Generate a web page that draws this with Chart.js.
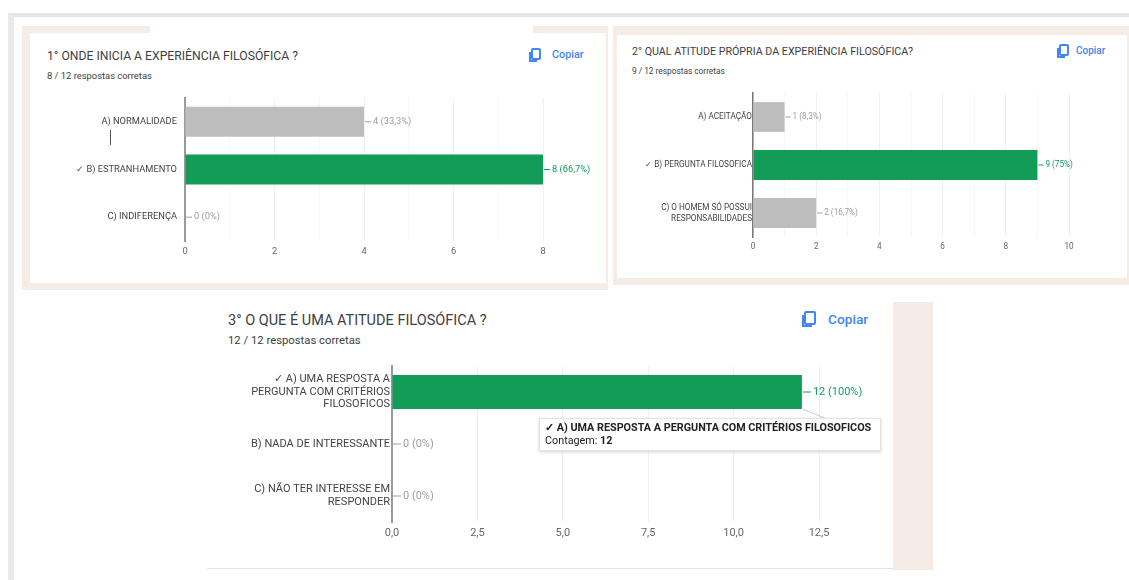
<!DOCTYPE html>
<html lang="pt">
<head>
<meta charset="utf-8">
<title>Respostas</title>
<script src="https://cdn.jsdelivr.net/npm/chart.js@4"></script>
<style>
html,body{margin:0;padding:0;background:#fff;}
body{width:1129px;height:580px;overflow:hidden;position:relative;font-family:Roboto,sans-serif;filter:blur(.55px);}
.box{position:absolute;}
.txt{position:absolute;white-space:nowrap;color:#3c4043;}
canvas{position:absolute;}
.copiar{position:absolute;white-space:nowrap;color:#4285f4;font-weight:500;}
.icon{position:absolute;border:2px solid #4285f4;border-radius:2px;background:#fff;box-sizing:border-box;}
.icon:before{content:"";position:absolute;left:-4px;top:2px;bottom:-4px;right:2px;border-left:2px solid #4285f4;border-bottom:2px solid #4285f4;}
#tip{position:absolute;left:539px;top:418px;width:342px;height:33px;background:#fff;border:1px solid #e3e3e3;box-shadow:0 1px 3px rgba(0,0,0,.18);box-sizing:border-box;padding:2px 5px;font-size:10.8px;line-height:13px;color:#222;white-space:nowrap;}
#tail{position:absolute;left:802px;top:413px;width:23px;height:1px;background:#cfcfcf;transform:rotate(22deg);}
</style>
</head>
<body>
<div class="box" style="left:8px;top:13px;width:1121px;height:4px;background:#e6e6e6"></div>
<div class="box" style="left:8px;top:13px;width:6px;height:567px;background:#e8e9e9"></div>

<div class="box" style="left:22px;top:26px;width:128px;height:7px;background:#f6ece6"></div>
<div class="box" style="left:533px;top:26px;width:75px;height:7px;background:#f6ece6"></div>
<div class="box" style="left:22px;top:32px;width:8px;height:258px;background:#f6ece6"></div>
<div class="box" style="left:22px;top:283px;width:586px;height:7px;background:#f6ece6"></div>
<div class="box" style="left:606px;top:32px;width:2px;height:258px;background:#f6ece6"></div>

<div class="box" style="left:613px;top:26px;width:516px;height:259px;background:#f6ece6"></div>
<div class="box" style="left:617px;top:35px;width:510px;height:243px;background:#fff"></div>

<div class="box" style="left:893px;top:302px;width:40px;height:268px;background:#f6ece6"></div>
<div class="box" style="left:207px;top:568px;width:686px;height:1px;background:#e4e4e4"></div>

<div class="txt" id="t1" style="left:47px;top:49px;font-size:12.2px"></div>
<div class="txt" id="s1" style="left:47px;top:70px;font-size:9.4px"></div>
<div class="icon" style="left:531px;top:48px;width:10px;height:12px"></div>
<div class="copiar" style="left:552px;top:48px;font-size:10.8px">Copiar</div>

<div class="txt" id="t2" style="left:632px;top:45px;font-size:10.7px"></div>
<div class="txt" id="s2" style="left:632px;top:66px;font-size:8.3px"></div>
<div class="icon" style="left:1059px;top:44px;width:10px;height:12px"></div>
<div class="copiar" style="left:1076px;top:45px;font-size:10px">Copiar</div>

<div class="txt" id="t3" style="left:228px;top:312px;font-size:14.5px"></div>
<div class="txt" id="s3" style="left:228px;top:334px;font-size:11.3px"></div>
<div class="icon" style="left:804px;top:311px;width:12px;height:14px"></div>
<div class="copiar" style="left:828px;top:311px;font-size:13.7px">Copiar</div>

<div class="box" style="left:110px;top:130px;width:1px;height:15px;background:#555"></div>

<canvas id="c1" width="576" height="190" style="left:30px;top:90px"></canvas>
<canvas id="c2" width="510" height="190" style="left:617px;top:80px"></canvas>
<canvas id="c3" width="686" height="200" style="left:207px;top:355px"></canvas>

<div id="tail"></div>
<div id="tip"><b id="tipTitle"></b><br><span id="tipCount"></span></div>

<script>
const title1='1° ONDE INICIA A EXPERIÊNCIA FILOSÓFICA ?';
const score1='8 / 12 respostas corretas';
const categories1=['A) NORMALIDADE','✓ B) ESTRANHAMENTO','C) INDIFERENÇA'];
const values1=[4,8,0];
const valueLabels1=['4 (33,3%)','8 (66,7%)','0 (0%)'];
const ticks1=['0','','2','','4','','6','','8'];
const correct1=1;

const title2='2° QUAL ATITUDE PRÓPRIA DA EXPERIÊNCIA FILOSÓFICA?';
const score2='9 / 12 respostas corretas';
const categories2=['A) ACEITAÇÃO','✓ B) PERGUNTA FILOSOFICA',['C) O HOMEM SÓ POSSUI','RESPONSABILIDADES']];
const values2=[1,9,2];
const valueLabels2=['1 (8,3%)','9 (75%)','2 (16,7%)'];
const ticks2=['0','','2','','4','','6','','8','','10'];
const correct2=1;

const title3='3° O QUE É UMA ATITUDE FILOSÓFICA ?';
const score3='12 / 12 respostas corretas';
const categories3=[['✓ A) UMA RESPOSTA A','PERGUNTA COM CRITÉRIOS','FILOSOFICOS'],'B) NADA DE INTERESSANTE',['C) NÃO TER INTERESSE EM','RESPONDER']];
const values3=[12,0,0];
const valueLabels3=['12 (100%)','0 (0%)','0 (0%)'];
const ticks3=['0,0','2,5','5,0','7,5','10,0','12,5'];
const correct3=0;
const tipTitle='✓ A) UMA RESPOSTA A PERGUNTA COM CRITÉRIOS FILOSOFICOS';

const GREEN='#129c58', GREY='#bdbdbd';

document.getElementById('t1').textContent=title1;
document.getElementById('s1').textContent=score1;
document.getElementById('t2').textContent=title2;
document.getElementById('s2').textContent=score2;
document.getElementById('t3').textContent=title3;
document.getElementById('s3').textContent=score3;
document.getElementById('tipTitle').textContent=tipTitle;
document.getElementById('tipCount').innerHTML='Contagem: <b>'+values3[correct3]+'</b>';

// value labels with the little leader dash after each bar
const barLabels={
  id:'barLabels',
  afterDatasetsDraw(chart,args,opts){
    const c=chart.ctx, xs=chart.scales.x, ys=chart.scales.y;
    c.save();
    c.font=opts.size+'px Roboto';
    c.textBaseline='middle';
    chart.data.datasets[0].data.forEach((v,i)=>{
      const x=xs.getPixelForValue(v), y=ys.getPixelForValue(i);
      const col=i===opts.correct?GREEN:'#9e9e9e';
      c.strokeStyle=col; c.lineWidth=1;
      c.beginPath(); c.moveTo(x+1,y); c.lineTo(x+opts.gap-2,y); c.stroke();
      c.fillStyle=col;
      c.fillText(opts.labels[i],x+opts.gap,y);
    });
    c.restore();
  }
};

function drawChart(id,cats,vals,labels,ticks,correct,o){
  const canvas=document.getElementById(id);
  return new Chart(canvas,{
    type:'bar',
    plugins:[barLabels],
    data:{labels:cats,datasets:[{
      data:vals,
      backgroundColor:vals.map((v,i)=>i===correct?GREEN:GREY),
      barPercentage:o.bar,categoryPercentage:1
    }]},
    options:{
      indexAxis:'y',responsive:false,animation:false,
      layout:{padding:{top:o.top,right:canvas.width-o.right,left:0,bottom:0}},
      plugins:{legend:{display:false},tooltip:{enabled:false},
        barLabels:{labels,correct,gap:o.gap,size:o.size}},
      scales:{
        x:{min:0,max:o.max,
          afterFit(s){s.height=o.bottom;},
          ticks:{stepSize:o.step,autoSkip:false,maxRotation:0,padding:5,color:'#666',font:{family:'Roboto',size:o.size},
            callback:(v,i)=>ticks[i]},
          grid:{drawTicks:false,color:c=>ticks[c.index]?'#f0f0f0':'#f7f7f7'},
          border:{display:false}},
        y:{
          // tick padding and label height would otherwise push the plot down
          afterFit(s){s.width=o.left;s.paddingTop=0;s.paddingBottom=0;},
          ticks:{autoSkip:false,padding:o.pad,color:'#444',font:{family:'Roboto',size:o.size,lineHeight:o.lh}},
          grid:{display:false,drawTicks:false},
          border:{color:o.axis,width:o.axisW}}
      }
    }
  });
}

drawChart('c1',categories1,values1,valueLabels1,ticks1,correct1,
  {left:155,right:513,top:8,bottom:39,max:8,step:1,bar:.63,gap:9,size:9.3,lh:1.3,pad:8,axis:'#9a9a9a',axisW:2});
drawChart('c2',categories2,values2,valueLabels2,ticks2,correct2,
  {left:136,right:452,top:13,bottom:33,max:10,step:1,bar:.62,gap:8,size:8.2,lh:1.35,pad:1,axis:'#777',axisW:1.5});
drawChart('c3',categories3,values3,valueLabels3,ticks3,correct3,
  {left:185,right:612,top:11,bottom:33,max:12.5,step:2.5,bar:.65,gap:11,size:11,lh:1.14,pad:2,axis:'#9a9a9a',axisW:2});
</script>
</body>
</html>
